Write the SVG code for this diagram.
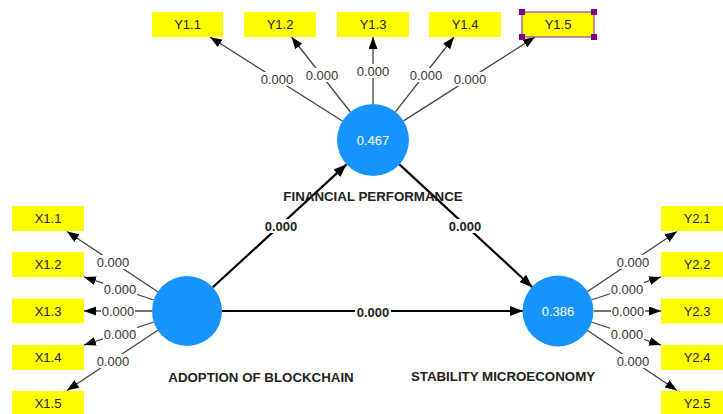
<svg xmlns="http://www.w3.org/2000/svg" width="723" height="414" viewBox="0 0 723 414">
<style>
.bg{fill:#ffffff}
.ind rect.box{fill:#ffff00}
.ind text{font-family:"Liberation Sans",Arial,sans-serif;font-size:13px;fill:#222;text-anchor:middle;dominant-baseline:central}
.lv circle{fill:#1793fd}
.lv text.v{font-family:"Liberation Sans",Arial,sans-serif;font-size:13px;fill:#ffffff;text-anchor:middle;dominant-baseline:central}
.lv text.n{font-family:"Liberation Sans",Arial,sans-serif;font-size:13.3px;font-weight:bold;fill:#222;text-anchor:middle;dominant-baseline:central}
.thin{stroke:#444;stroke-width:1.3;fill:none}
.thick{stroke:#000;stroke-width:2.2;fill:none}
.lb rect{fill:#ffffff}
.lb text{font-family:"Liberation Sans",Arial,sans-serif;font-size:13px;fill:#333;text-anchor:middle;dominant-baseline:central}
.lb text.b{font-weight:bold;fill:#222}
.ind rect.sel{fill:none;stroke:#a040a0;stroke-width:1.2}
.ind rect.hdl{fill:#800080}
</style>
<defs>
<marker id="ah" markerUnits="userSpaceOnUse" markerWidth="14" markerHeight="12" refX="13" refY="5" orient="auto">
<path d="M0,0 L13,5 L0,10 z" fill="#000"/>
</marker>
<marker id="as" markerUnits="userSpaceOnUse" markerWidth="13" markerHeight="11" refX="12" refY="4.5" orient="auto">
<path d="M0,0 L12,4.5 L0,9 z" fill="#000"/>
</marker>
</defs>
<rect class="bg" x="0" y="0" width="723" height="414"/>

<g id="connectors">
<line class="thin" x1="157.8" y1="291.7" x2="66.9" y2="231.5" marker-end="url(#as)"/>
<line class="thin" x1="153.8" y1="300" x2="84" y2="276.9" marker-end="url(#as)"/>
<line class="thin" x1="152" y1="311" x2="84" y2="311" marker-end="url(#as)"/>
<line class="thin" x1="153.8" y1="322" x2="84" y2="345.1" marker-end="url(#as)"/>
<line class="thin" x1="157.8" y1="330.3" x2="66.9" y2="390.5" marker-end="url(#as)"/>

<line class="thin" x1="587.2" y1="291.7" x2="677" y2="231.5" marker-end="url(#as)"/>
<line class="thin" x1="591.2" y1="300" x2="661" y2="276.9" marker-end="url(#as)"/>
<line class="thin" x1="594" y1="311" x2="661" y2="311" marker-end="url(#as)"/>
<line class="thin" x1="591.2" y1="322" x2="661" y2="345.1" marker-end="url(#as)"/>
<line class="thin" x1="587.2" y1="330.3" x2="677" y2="390.5" marker-end="url(#as)"/>

<line class="thin" x1="342.4" y1="121" x2="210" y2="37" marker-end="url(#as)"/>
<line class="thin" x1="350.4" y1="112" x2="291.5" y2="37" marker-end="url(#as)"/>
<line class="thin" x1="373" y1="104" x2="373" y2="37" marker-end="url(#as)"/>
<line class="thin" x1="395.4" y1="111.8" x2="454" y2="37" marker-end="url(#as)"/>
<line class="thin" x1="403.5" y1="120.9" x2="535" y2="37" marker-end="url(#as)"/>

<line class="thick" x1="212.8" y1="287.3" x2="346.5" y2="164.4" marker-end="url(#ah)"/>
<line class="thick" x1="399.4" y1="164.4" x2="532.3" y2="287.2" marker-end="url(#ah)"/>
<line class="thick" x1="222" y1="311" x2="523" y2="311" marker-end="url(#ah)"/>

<g class="lb">
<rect x="96" y="255" width="34" height="14"/><text x="113" y="262">0.000</text>
<rect x="103" y="282" width="34" height="14"/><text x="120" y="289">0.000</text>
<rect x="101" y="304" width="34" height="14"/><text x="118" y="311">0.000</text>
<rect x="103" y="327" width="34" height="14"/><text x="120" y="334">0.000</text>
<rect x="96" y="354" width="34" height="14"/><text x="113" y="361">0.000</text>

<rect x="616" y="255" width="34" height="14"/><text x="633" y="262">0.000</text>
<rect x="610" y="282" width="34" height="14"/><text x="627" y="289">0.000</text>
<rect x="611" y="304" width="34" height="14"/><text x="628" y="311">0.000</text>
<rect x="610" y="327" width="34" height="14"/><text x="627" y="334">0.000</text>
<rect x="616" y="354" width="34" height="14"/><text x="633" y="361">0.000</text>

<rect x="260" y="72" width="34" height="14"/><text x="277" y="79">0.000</text>
<rect x="305" y="68" width="34" height="14"/><text x="322" y="75">0.000</text>
<rect x="356" y="64" width="34" height="14"/><text x="373" y="71">0.000</text>
<rect x="409" y="68" width="34" height="14"/><text x="426" y="75">0.000</text>
<rect x="453" y="72" width="34" height="14"/><text x="470" y="79">0.000</text>

<rect x="263" y="219" width="36" height="14"/><text class="b" x="281" y="226">0.000</text>
<rect x="447" y="219" width="36" height="14"/><text class="b" x="465" y="226">0.000</text>
<rect x="355" y="305" width="36" height="14"/><text class="b" x="373" y="312">0.000</text>
</g>
</g>

<g id="FP" class="lv">
<circle cx="373" cy="140" r="36"/>
<text class="v" x="373" y="140">0.467</text>
<text class="n" x="373" y="196">FINANCIAL PERFORMANCE</text>
</g>
<g id="AB" class="lv">
<circle cx="187" cy="311" r="35"/>
<text class="n" x="261" y="377">ADOPTION OF BLOCKCHAIN</text>
</g>
<g id="SM" class="lv">
<circle cx="558" cy="311" r="35.5"/>
<text class="v" x="558" y="311">0.386</text>
<text class="n" x="503" y="376">STABILITY MICROECONOMY</text>
</g>

<g id="Y1.1" class="ind"><rect class="box" x="152" y="12" width="71" height="25"/><text x="187.5" y="24.5">Y1.1</text></g>
<g id="Y1.2" class="ind"><rect class="box" x="244" y="12" width="72" height="25"/><text x="280" y="24.5">Y1.2</text></g>
<g id="Y1.3" class="ind"><rect class="box" x="337" y="12" width="72" height="25"/><text x="373" y="24.5">Y1.3</text></g>
<g id="Y1.4" class="ind"><rect class="box" x="429" y="12" width="72" height="25"/><text x="465" y="24.5">Y1.4</text></g>
<g id="Y1.5" class="ind"><rect class="box" x="522" y="12" width="72" height="25"/><text x="558" y="24.5">Y1.5</text>
<rect class="sel" x="522" y="12" width="72" height="25"/>
<rect class="hdl" x="519" y="9" width="6" height="6"/>
<rect class="hdl" x="591" y="9" width="6" height="6"/>
<rect class="hdl" x="519" y="34" width="6" height="6"/>
<rect class="hdl" x="591" y="34" width="6" height="6"/>
</g>

<g id="X1.1" class="ind"><rect class="box" x="12" y="206" width="72" height="25"/><text x="48" y="218.5">X1.1</text></g>
<g id="X1.2" class="ind"><rect class="box" x="12" y="252" width="72" height="25"/><text x="48" y="264.5">X1.2</text></g>
<g id="X1.3" class="ind"><rect class="box" x="12" y="298.5" width="72" height="25"/><text x="48" y="311">X1.3</text></g>
<g id="X1.4" class="ind"><rect class="box" x="12" y="345" width="72" height="25"/><text x="48" y="357.5">X1.4</text></g>
<g id="X1.5" class="ind"><rect class="box" x="12" y="391" width="72" height="25"/><text x="48" y="403.5">X1.5</text></g>

<g id="Y2.1" class="ind"><rect class="box" x="661" y="206" width="72" height="25"/><text x="697" y="218.5">Y2.1</text></g>
<g id="Y2.2" class="ind"><rect class="box" x="661" y="252" width="72" height="25"/><text x="697" y="264.5">Y2.2</text></g>
<g id="Y2.3" class="ind"><rect class="box" x="661" y="298.5" width="72" height="25"/><text x="697" y="311">Y2.3</text></g>
<g id="Y2.4" class="ind"><rect class="box" x="661" y="345" width="72" height="25"/><text x="697" y="357.5">Y2.4</text></g>
<g id="Y2.5" class="ind"><rect class="box" x="661" y="391" width="72" height="25"/><text x="697" y="403.5">Y2.5</text></g>
</svg>
